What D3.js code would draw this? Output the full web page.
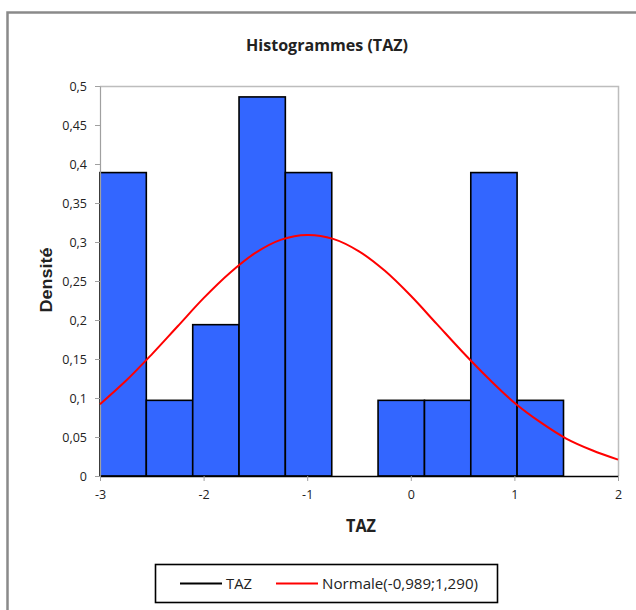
<!DOCTYPE html>
<html>
<head>
<meta charset="utf-8">
<script src="https://cdn.jsdelivr.net/npm/d3@7"></script>
<style>
  html, body { margin: 0; padding: 0; background: #fff; }
  svg { display: block; }
  text { font-family: "Open Sans", "DejaVu Sans Condensed", sans-serif; fill: #222; }
</style>
</head>
<body>
<svg id="chart" width="636" height="610"></svg>
<script>
// Histogram bins (TAZ): lower edges, upper edges and densities
const binStart = [-3.000, -2.553, -2.105, -1.658, -1.211, -0.763, -0.316, 0.132, 0.579, 1.026];
const binEnd   = [-2.553, -2.105, -1.658, -1.211, -0.763, -0.316, 0.132, 0.579, 1.026, 1.474];
const density  = [0.389, 0.097, 0.194, 0.486, 0.389, 0.000, 0.097, 0.097, 0.389, 0.097];

// Normal(-0,989;1,290) curve read at x positions
const curveX = [-3, -2.75, -2.5, -2.25, -2, -1.75, -1.5, -1.25, -1, -0.75, -0.5, -0.25, 0, 0.25, 0.5, 0.75, 1, 1.25, 1.5, 1.75, 2];
const curveY = [0.092, 0.122, 0.156, 0.192, 0.228, 0.260, 0.286, 0.303, 0.309, 0.304, 0.288, 0.263, 0.231, 0.195, 0.159, 0.125, 0.094, 0.069, 0.048, 0.033, 0.021];

const xTicks = [-3, -2, -1, 0, 1, 2];
const yTicks = [0, 0.05, 0.1, 0.15, 0.2, 0.25, 0.3, 0.35, 0.4, 0.45, 0.5];

const title = "Histogrammes (TAZ)";
const xTitle = "TAZ";
const yTitle = "Densité";
const legendLabels = ["TAZ", "Normale(-0,989;1,290)"];

const svg = d3.select("#chart");
const fmt = v => String(v).replace(".", ",");

// outer frame
svg.append("path")
  .attr("d", "M7.5,640 L7.5,12.5 L660,12.5")
  .attr("fill", "none").attr("stroke", "#8a8a8a").attr("stroke-width", 2.5);

const pL = 100, pR = 618, pT = 86, pB = 476;
const x = d3.scaleLinear().domain([-3, 2]).range([pL, pR]);
const y = d3.scaleLinear().domain([0, 0.5]).range([pB, pT]);

// plot area border (top & right)
svg.append("path")
  .attr("d", `M${pL},${pT + 0.5} L${pR + 0.5},${pT + 0.5} L${pR + 0.5},${pB}`)
  .attr("fill", "none").attr("stroke", "#bdbdbd").attr("stroke-width", 1.5);

// bars
svg.append("g").selectAll("rect")
  .data(density.map((d, i) => ({ x0: binStart[i], x1: binEnd[i], d })).filter(b => b.d > 0))
  .join("rect")
  .attr("x", b => x(b.x0))
  .attr("y", b => y(b.d))
  .attr("width", b => x(b.x1) - x(b.x0))
  .attr("height", b => y(0) - y(b.d))
  .attr("fill", "#3366ff")
  .attr("stroke", "#000")
  .attr("stroke-width", 1.6);

// y axis
const yAxis = svg.append("g")
  .attr("transform", `translate(${pL},0)`)
  .call(d3.axisLeft(y).tickValues(yTicks).tickFormat(fmt).tickSize(5).tickPadding(8).tickSizeOuter(0));
yAxis.select(".domain").attr("stroke", "#a0a0a0").attr("stroke-width", 1.2);
yAxis.selectAll(".tick line").attr("stroke", "#a0a0a0");
yAxis.selectAll(".tick text").attr("font-size", 12.5).attr("fill", "#222")
  .style("font-family", "'Open Sans', sans-serif");

// x axis
const xAxis = svg.append("g")
  .attr("transform", `translate(0,${pB})`)
  .call(d3.axisBottom(x).tickValues(xTicks).tickFormat(fmt).tickSize(5).tickPadding(9).tickSizeOuter(0));
xAxis.select(".domain").attr("stroke", "#000").attr("stroke-width", 1.6);
xAxis.selectAll(".tick line").attr("stroke", "#a0a0a0");
xAxis.selectAll(".tick text").attr("font-size", 12.5).attr("fill", "#222")
  .style("font-family", "'Open Sans', sans-serif");

// normal curve
const line = d3.line().x((d, i) => x(curveX[i])).y(d => y(d)).curve(d3.curveCatmullRom);
svg.append("path")
  .datum(curveY)
  .attr("d", line)
  .attr("fill", "none")
  .attr("stroke", "#ff0000")
  .attr("stroke-width", 2);

// titles
svg.append("text").attr("x", 327).attr("y", 51).attr("text-anchor", "middle")
  .attr("font-size", 16.5).attr("font-weight", "bold").attr("fill", "#111")
  .attr("textLength", 162).attr("lengthAdjust", "spacingAndGlyphs").text(title);
svg.append("text").attr("x", 361).attr("y", 532).attr("text-anchor", "middle")
  .attr("font-size", 18).attr("font-weight", "bold").attr("fill", "#111")
  .attr("textLength", 30).attr("lengthAdjust", "spacingAndGlyphs").text(xTitle);
svg.append("text").attr("transform", `translate(52,280) rotate(-90)`).attr("text-anchor", "middle")
  .attr("font-size", 17).attr("font-weight", "bold").attr("fill", "#111")
  .style("font-family", "'Liberation Sans', Arial, sans-serif")
  .attr("textLength", 65).attr("lengthAdjust", "spacingAndGlyphs").text(yTitle);

// legend
const lg = svg.append("g");
lg.append("rect").attr("x", 155.5).attr("y", 564.5).attr("width", 342).attr("height", 38)
  .attr("fill", "#fff").attr("stroke", "#000").attr("stroke-width", 1.6);
const legendColors = ["#000", "#ff0000"];
const legendX = [180, 276];
const legendW = [26, 156];
legendLabels.forEach((lab, i) => {
  lg.append("line").attr("x1", legendX[i]).attr("x2", legendX[i] + 42)
    .attr("y1", 583.5).attr("y2", 583.5).attr("stroke", legendColors[i]).attr("stroke-width", 2);
  lg.append("text").attr("x", legendX[i] + 46).attr("y", 589)
    .attr("font-size", 15)
    .attr("textLength", legendW[i]).attr("lengthAdjust", "spacingAndGlyphs").text(lab);
});
</script>
</body>
</html>
